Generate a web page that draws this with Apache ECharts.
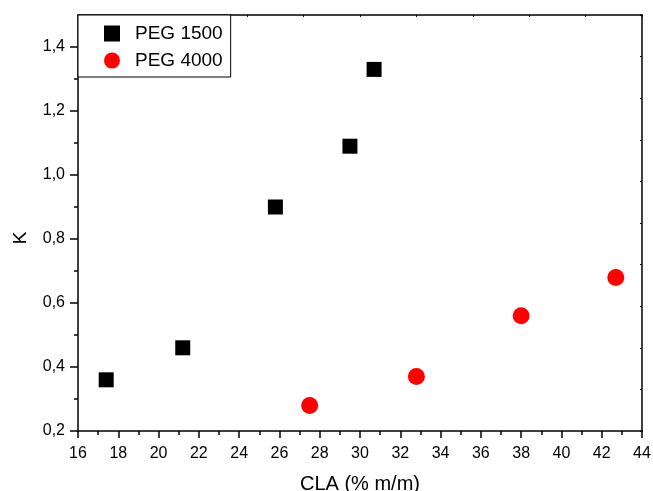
<!DOCTYPE html>
<html>
<head>
<meta charset="utf-8">
<script src="https://cdn.jsdelivr.net/npm/echarts@6/dist/echarts.min.js"></script>
<style>html,body{margin:0;padding:0;background:#fff}#c{width:653px;height:491px}</style>
</head>
<body>
<div id="c"></div>
<script>
// Data
var peg1500X = [17.4, 21.2, 25.8, 29.5, 30.7];
var peg1500Y = [0.36, 0.46, 0.90, 1.09, 1.33];
var peg4000X = [27.5, 32.8, 38.0, 42.7];
var peg4000Y = [0.28, 0.37, 0.56, 0.68];
var seriesNames = ['PEG 1500', 'PEG 4000'];
var yMajorTicks = [0.2, 0.4, 0.6, 0.8, 1.0, 1.2, 1.4];
var yMinorTicks = [0.3, 0.5, 0.7, 0.9, 1.1, 1.3];
var xTitle = 'CLA (% m/m)';
var yTitle = 'K';

function pairs(xs, ys) { return xs.map(function (x, i) { return [x, ys[i]]; }); }
var font = 'Liberation Sans, Arial, Helvetica, sans-serif';
var black = '#000';

var chart = echarts.init(document.getElementById('c'), null, { renderer: 'canvas' });
chart.setOption({
  animation: false,
  backgroundColor: '#fff',
  grid: { left: 78, right: 11, top: 15, bottom: 60, containLabel: false, outerBoundsMode: 'none' },
  legend: {
    left: 78, top: 15, orient: 'vertical',
    data: [{ name: seriesNames[0], icon: 'rect' }, { name: seriesNames[1], icon: 'circle' }],
    itemWidth: 16, itemHeight: 16, itemGap: 8,
    padding: [9, 8, 7, 26],
    borderColor: black, borderWidth: 1, backgroundColor: '#fff',
    textStyle: { fontFamily: font, fontSize: 19, color: black, lineHeight: 16, padding: [0, 0, 0, 10] }
  },
  xAxis: [{
    type: 'value', min: 16, max: 44, interval: 2, position: 'bottom',
    name: xTitle, nameLocation: 'middle', nameGap: 43,
    nameTextStyle: { fontFamily: font, fontSize: 20, color: black },
    axisLine: { show: true, onZero: false, lineStyle: { color: black, width: 1.5 } },
    axisTick: { show: true, inside: false, length: 7, lineStyle: { color: black, width: 1.5 } },
    minorTick: { show: true, splitNumber: 2, length: 4, lineStyle: { color: black, width: 1.5 } },
    axisLabel: { fontFamily: font, fontSize: 16, color: black, margin: 15 },
    splitLine: { show: false }
  }, {
    type: 'value', min: 0, max: 10, interval: 1, position: 'top',
    axisLine: { show: true, onZero: false, lineStyle: { color: black, width: 1.5 } },
    axisTick: { show: true, inside: true, length: 2, lineStyle: { color: black, width: 1 } },
    axisLabel: { show: false }, splitLine: { show: false }
  }],
  yAxis: [{
    type: 'value', min: 0.2, max: 1.5, position: 'left',
    name: yTitle, nameLocation: 'middle', nameGap: 48, nameRotate: 90,
    nameTextStyle: { fontFamily: font, fontSize: 19, color: black, padding: [0, 30, 0, 0] },
    axisLine: { show: true, onZero: false, lineStyle: { color: black, width: 1.5 } },
    axisTick: { show: true, inside: false, length: 8, customValues: yMajorTicks, lineStyle: { color: black, width: 1.5 } },
    axisLabel: {
      fontFamily: font, fontSize: 16, color: black, margin: 13, customValues: yMajorTicks,
      formatter: function (v) { return v.toFixed(1).replace('.', ','); }
    },
    splitLine: { show: false }
  }, {
    type: 'value', min: 0.2, max: 1.5, position: 'left',
    axisLine: { show: false },
    axisTick: { show: true, inside: false, length: 4, customValues: yMinorTicks, lineStyle: { color: black, width: 1.5 } },
    axisLabel: { show: false }, splitLine: { show: false }
  }, {
    type: 'value', min: 0, max: 10, interval: 1, position: 'right',
    axisLine: { show: true, onZero: false, lineStyle: { color: black, width: 1.5 } },
    axisTick: { show: true, inside: true, length: 2, lineStyle: { color: black, width: 1 } },
    axisLabel: { show: false }, splitLine: { show: false }
  }],
  series: [{
    name: seriesNames[0], type: 'scatter', xAxisIndex: 0, yAxisIndex: 0,
    symbol: 'rect', symbolSize: 15,
    itemStyle: { color: black, opacity: 1 },
    data: pairs(peg1500X, peg1500Y)
  }, {
    name: seriesNames[1], type: 'scatter', xAxisIndex: 0, yAxisIndex: 0,
    symbol: 'circle', symbolSize: 17,
    itemStyle: { color: '#ff0000', opacity: 1 },
    data: pairs(peg4000X, peg4000Y)
  }]
});
</script>
</body>
</html>
